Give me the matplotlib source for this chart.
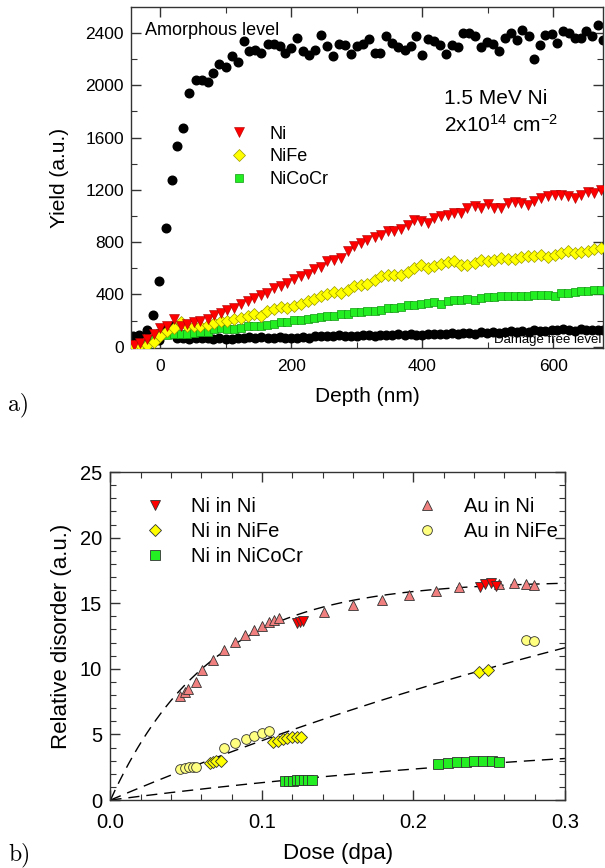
import numpy as np
import matplotlib
matplotlib.use('Agg')
import matplotlib.pyplot as plt
from matplotlib.lines import Line2D

plt.rcParams['font.family'] = ['Liberation Sans', 'DejaVu Sans']
plt.rcParams['mathtext.default'] = 'regular'

# ---- panel a: RBS yield vs depth ----
depth_blk = [-42, -32, -21, -11, -2, 8, 17, 26, 35, 44, 54, 63, 72, 81, 90, 100, 109, 118, 127, 136,
             145, 154, 164, 173, 182, 191, 200, 208, 217, 227, 236, 245, 254, 264, 273, 282, 291, 300, 309, 318,
             327, 336, 345, 354, 363, 373, 382, 390, 400, 409, 418, 427, 436, 445, 455, 462, 471, 480, 490, 499,
             508, 517, 526, 535, 544, 553, 563, 571, 580, 588, 598, 606, 615, 624, 633, 642, 650, 659, 668, 676]
amorphous = [79, 92, 125, 239, 500, 907, 1276, 1538, 1671, 1944, 2040, 2040, 2027, 2096, 2167, 2142, 2226, 2175, 2338, 2264,
             2274, 2249, 2315, 2315, 2300, 2249, 2282, 2364, 2264, 2231, 2274, 2383, 2300, 2226, 2315, 2307, 2238, 2300, 2315, 2358,
             2249, 2249, 2376, 2325, 2294, 2274, 2300, 2378, 2231, 2353, 2340, 2312, 2238, 2307, 2294, 2402, 2402, 2378, 2294, 2332,
             2315, 2264, 2366, 2402, 2345, 2427, 2378, 2200, 2307, 2383, 2396, 2327, 2415, 2402, 2366, 2366, 2415, 2378, 2460, 2350]
virgin = [8, 8, 28, 53, 53, 135, 160, 66, 66, 62, 66, 64, 68, 62, 66, 60, 58, 70, 66, 72,
          68, 75, 70, 66, 72, 64, 70, 66, 74, 70, 82, 78, 84, 80, 86, 78, 82, 80, 86, 90,
          84, 88, 92, 86, 94, 90, 98, 92, 88, 96, 100, 94, 98, 104, 96, 102, 108, 100, 112, 106,
          110, 104, 114, 118, 110, 120, 116, 126, 118, 122, 130, 124, 136, 128, 122, 132, 126, 130, 124, 128]

depth = [-41, -31, -20, -10, 0, 10, 21, 31, 41, 51, 61, 72, 82, 92, 102, 112, 123, 133, 143, 153,
         163, 174, 184, 194, 204, 214, 225, 235, 245, 255, 265, 276, 286, 296, 306, 316, 327, 337, 347, 357,
         367, 378, 388, 398, 408, 418, 429, 439, 449, 459, 469, 480, 490, 500, 510, 520, 531, 541, 551, 561,
         571, 582, 592, 602, 612, 622, 633, 643, 653, 663, 673]
y_ni = [15, 25, 60, 100, 140, 160, 215, 160, 172, 188, 200, 215, 240, 260, 280, 298, 330, 352, 370, 394,
        408, 450, 468, 490, 515, 540, 558, 592, 612, 652, 666, 682, 732, 768, 795, 820, 840, 858, 882, 884,
        902, 935, 970, 958, 946, 985, 998, 1010, 1022, 1024, 1058, 1073, 1060, 1092, 1062, 1060, 1098, 1110, 1098, 1088,
        1112, 1137, 1150, 1162, 1162, 1150, 1138, 1162, 1186, 1176, 1200]
y_nife = [5, 10, 15, 35, 79, 117, 143, 186, 161, 155, 161, 168, 181, 194, 194, 211, 219, 232, 250, 232,
          270, 288, 303, 296, 313, 329, 347, 367, 385, 405, 418, 410, 436, 461, 474, 482, 507, 538, 550, 550,
          550, 568, 601, 627, 601, 619, 635, 645, 652, 627, 627, 640, 665, 652, 660, 678, 670, 670, 686, 696,
          696, 703, 686, 703, 716, 734, 716, 721, 736, 747, 754]
y_nicocr = [-8, -5, 20, 60, 104, 92, 99, 99, 99, 104, 110, 110, 135, 143, 135, 135, 143, 161, 155, 155,
            168, 176, 186, 188, 201, 206, 211, 219, 224, 232, 232, 252, 252, 263, 263, 270, 270, 278, 296, 296,
            303, 321, 321, 329, 334, 339, 329, 347, 354, 359, 365, 359, 372, 380, 380, 385, 385, 390, 390, 390,
            398, 398, 398, 390, 410, 410, 418, 423, 423, 430, 436]

# ---- panel b: relative disorder vs dose ----
dose_ni_ni = [0.1229, 0.1251, 0.1269, 0.2439, 0.2472, 0.2510, 0.2545]
dis_ni_ni = [13.52, 13.55, 13.64, 16.26, 16.46, 16.52, 16.31]
dose_ni_nife = [0.0657, 0.0679, 0.0696, 0.0727, 0.1075, 0.1108, 0.1141, 0.1167, 0.1196, 0.1229, 0.1257, 0.2434, 0.2494]
dis_ni_nife = [2.85, 2.92, 3.0, 3.0, 4.45, 4.52, 4.62, 4.70, 4.78, 4.83, 4.83, 9.78, 9.91]
dose_ni_nicocr = [0.1152, 0.1178, 0.1203, 0.1229, 0.1253, 0.1277, 0.1302, 0.1328,
                  0.2164, 0.2226, 0.2285, 0.2345, 0.2401, 0.2461, 0.2516, 0.2564]
dis_ni_nicocr = [1.47, 1.47, 1.47, 1.49, 1.49, 1.50, 1.50, 1.49,
                 2.74, 2.84, 2.90, 2.92, 2.97, 2.97, 2.95, 2.87]
dose_au_ni = [0.0459, 0.0492, 0.0514, 0.0564, 0.0602, 0.0679, 0.0751, 0.0822, 0.0888, 0.0947, 0.1002, 0.1048,
              0.1079, 0.1112, 0.1411, 0.1603, 0.1790, 0.1972, 0.2147, 0.2302, 0.2564, 0.2665, 0.2740, 0.2795]
dis_au_ni = [7.93, 8.26, 8.5, 9.0, 9.9, 10.7, 11.4, 12.07, 12.6, 12.96, 13.3, 13.57,
             13.7, 13.85, 14.35, 14.86, 15.24, 15.6, 15.93, 16.2, 16.46, 16.56, 16.5, 16.39]
dose_au_nife = [0.0459, 0.0492, 0.0518, 0.0542, 0.0562, 0.0751, 0.0822, 0.0892, 0.0947, 0.1002, 0.1048, 0.2740, 0.2795]
dis_au_nife = [2.36, 2.46, 2.54, 2.54, 2.54, 3.99, 4.37, 4.65, 4.90, 5.08, 5.26, 12.2, 12.1]

# saturation fits f = A * (1 - exp(-D / tau))
fit_params = {'Ni': (16.7, 0.066), 'NiFe': (29.5, 0.6), 'NiCoCr': (6.0, 0.4)}

fig = plt.figure(figsize=(6.05, 8.68), dpi=100)
ax1 = fig.add_axes([0.2165, 0.5991, 0.7802, 0.3929])
ax2 = fig.add_axes([0.1826, 0.0783, 0.7512, 0.3779])

ax1.plot(depth, y_nicocr, 's', color='#22ee22', mec='#119911', mew=0.5, ms=6.2, zorder=3)
ax1.plot(depth, y_nife, 'D', color='#ffff00', mec='#999900', mew=0.5, ms=6.2, zorder=4)
ax1.plot(depth, y_ni, 'v', color='#ff0000', mec='#aa0000', mew=0.4, ms=7.3, zorder=5)
ax1.plot(depth_blk, virgin, 'o', color='black', ms=6.2, zorder=2)
ax1.plot(depth_blk, amorphous, 'o', color='black', ms=6.2, zorder=2)

ax1.set_xlim(-45, 676)
ax1.set_ylim(-10, 2600)
ax1.set_xticks([0, 200, 400, 600])
ax1.set_xticks([100, 300, 500], minor=True)
ax1.set_yticks(np.arange(0, 2401, 400))
ax1.set_yticks(np.arange(200, 2600, 400), minor=True)
ax1.set_xlabel('Depth (nm)', fontsize=15, labelpad=9)
ax1.set_ylabel('Yield (a.u.)', fontsize=15, labelpad=12)

ax1.text(-23, 2420, 'Amorphous level', fontsize=13, va='center', ha='left')
ax1.text(674, 5, 'Damage free level', fontsize=9.5, va='bottom', ha='right')
ax1.text(433, 1900, '1.5 MeV Ni', fontsize=15, va='center', ha='left')
ax1.text(433, 1700, '2x10$^{14}$ cm$^{-2}$', fontsize=15, va='center', ha='left')

h1 = [Line2D([], [], ls='', marker='v', color='#ff0000', mec='#aa0000', mew=0.4, ms=7),
      Line2D([], [], ls='', marker='D', color='#ffff00', mec='#999900', mew=0.5, ms=6.2),
      Line2D([], [], ls='', marker='s', color='#22ee22', mec='#119911', mew=0.5, ms=6.2)]
ax1.legend(h1, ['Ni', 'NiFe', 'NiCoCr'], loc='upper left', bbox_to_anchor=(0.175, 0.70),
           frameon=False, fontsize=13, handlelength=1.0, handletextpad=1.2, labelspacing=0.32)

# panel b
D = np.linspace(0, 0.3, 200)
for name in ['Ni', 'NiFe', 'NiCoCr']:
    A, tau = fit_params[name]
    ax2.plot(D, A * (1 - np.exp(-D / tau)), color='black', lw=1.0, dashes=(8, 5), zorder=1)

ax2.plot(dose_au_ni, dis_au_ni, '^', color='#f08080', mec='#333333', mew=0.6, ms=7.8, zorder=3)
ax2.plot(dose_ni_ni, dis_ni_ni, 'v', color='#ff0000', mec='#333333', mew=0.6, ms=7.8, zorder=4)
ax2.plot(dose_au_nife, dis_au_nife, 'o', color='#ffff80', mec='#333333', mew=0.6, ms=7, zorder=3)
ax2.plot(dose_ni_nife, dis_ni_nife, 'D', color='#ffff00', mec='#333333', mew=0.6, ms=6.5, zorder=4)
ax2.plot(dose_ni_nicocr, dis_ni_nicocr, 's', color='#22ee22', mec='#333333', mew=0.6, ms=6.5, zorder=4)

ax2.set_xlim(0, 0.3)
ax2.set_ylim(0, 25)
ax2.set_xticks([0, 0.1, 0.2, 0.3])
ax2.set_xticklabels(['0.0', '0.1', '0.2', '0.3'])
ax2.set_xticks(np.arange(0.02, 0.3, 0.02), minor=True)
ax2.set_yticks([0, 5, 10, 15, 20, 25])
ax2.set_yticks(np.arange(1, 25, 1), minor=True)
ax2.set_xlabel('Dose (dpa)', fontsize=16, labelpad=8)
ax2.set_ylabel('Relative disorder (a.u.)', fontsize=16, labelpad=6)

h2 = [Line2D([], [], ls='', marker='v', color='#ff0000', mec='#333333', mew=0.6, ms=7.5),
      Line2D([], [], ls='', marker='D', color='#ffff00', mec='#333333', mew=0.6, ms=6.5),
      Line2D([], [], ls='', marker='s', color='#22ee22', mec='#333333', mew=0.6, ms=6.5)]
h3 = [Line2D([], [], ls='', marker='^', color='#f08080', mec='#333333', mew=0.6, ms=7.5),
      Line2D([], [], ls='', marker='o', color='#ffff80', mec='#333333', mew=0.6, ms=7)]
leg = ax2.legend(h2, ['Ni in Ni', 'Ni in NiFe', 'Ni in NiCoCr'], loc='upper left', bbox_to_anchor=(0.036, 0.978),
                 frameon=False, fontsize=14.5, handlelength=1.0, handletextpad=1.3, labelspacing=0.28)
ax2.add_artist(leg)
ax2.legend(h3, ['Au in Ni', 'Au in NiFe'], loc='upper left', bbox_to_anchor=(0.635, 0.978),
           frameon=False, fontsize=14.5, handlelength=1.0, handletextpad=1.3, labelspacing=0.28)

for ax in (ax1, ax2):
    for s in ax.spines.values():
        s.set_color('#333333')
        s.set_linewidth(1.0)
    ax.tick_params(which='both', direction='in', top=True, right=True, colors='#333333', labelcolor='black')
    ax.tick_params(which='major', length=7, width=1.0)
    ax.tick_params(which='minor', length=4, width=0.8)
ax1.tick_params(labelsize=12.5)
ax1.tick_params(axis='x', pad=8)
ax1.tick_params(axis='y', pad=5)
ax2.tick_params(labelsize=14.5)
ax2.tick_params(axis='x', pad=9)
ax2.tick_params(axis='y', pad=6)

fig.text(8 / 605, 1 - 405 / 868, 'a)', fontsize=17, family='cmr10', va='center', ha='left')
fig.text(8 / 605, 1 - 855 / 868, 'b)', fontsize=17, family='cmr10', va='center', ha='left')

fig.savefig('out.png', dpi=100)
